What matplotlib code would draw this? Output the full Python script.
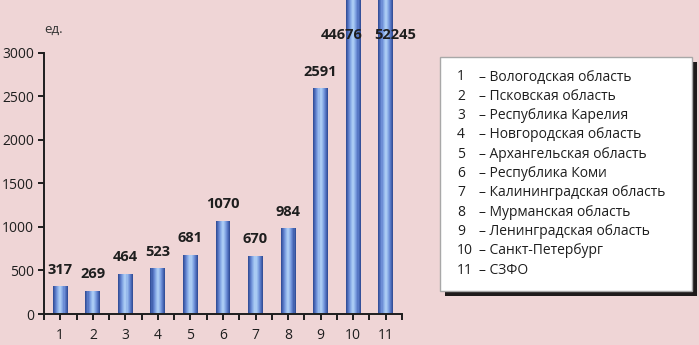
import numpy as np
import matplotlib; matplotlib.use('Agg')
import matplotlib.pyplot as plt
from matplotlib.patches import Rectangle

# data
cats = np.arange(1, 12)
values = [317, 269, 464, 523, 681, 1070, 670, 984, 2591, 44676, 52245]
regions = ['Вологодская область', 'Псковская область', 'Республика Карелия',
           'Новгородская область', 'Архангельская область', 'Республика Коми',
           'Калининградская область', 'Мурманская область', 'Ленинградская область',
           'Санкт-Петербург', 'СЗФО']
yticks = [0, 500, 1000, 1500, 2000, 2500, 3000]

BG = '#efd5d6'
W, H = 699, 345
plt.rcParams['font.family'] = ['Open Sans', 'DejaVu Sans']

fig = plt.figure(figsize=(W / 100, H / 100), dpi=100, facecolor=BG)

def px(x, y):
    return x / W, 1 - y / H

# axes: y axis at x=44px, x axis at y=314px, top of fig = 3605 units
l, b = px(44, 314)
r, _ = px(402, 0)
ax = fig.add_axes([l, b, r - l, 1 - b])
ax.set_facecolor('none')
ymax = 3605
ax.set_xlim(0.5, 11.5)
ax.set_ylim(0, ymax)

# gradient-like bars: dark edges, light centre
shades = ['#34509a', '#4564b0', '#5878c4', '#6d8ed6', '#82a5e2', '#97b9ec', '#a9caf3']
width = 0.46
for k, c in enumerate(shades):
    w = width * (1 - k / len(shades))
    ax.bar(cats, values, width=w, color=c, edgecolor='none', zorder=2 + k * 0.01)

# value labels
cap = 3200
dx = {10: -0.35, 11: 0.28}
for x, v in zip(cats, values):
    y = v + 190 if v < 3000 else cap
    ax.text(x + dx.get(x, 0), y, str(v), ha='center', va='center',
            fontsize=10.5, fontweight='bold', color='#1e1e1e', zorder=5)

for s in ['top', 'right']:
    ax.spines[s].set_visible(False)
ax.spines['left'].set_bounds(0, 3000)
ax.spines['left'].set_linewidth(1.4)
ax.spines['bottom'].set_linewidth(1.4)
ax.spines['left'].set_color('#1e1e1e')
ax.spines['bottom'].set_color('#1e1e1e')
ax.set_yticks(yticks)
ax.set_xticks(np.arange(0.5, 12, 1))
ax.set_xticklabels([])
ax.set_xticks(cats, minor=True)
ax.set_xticklabels([str(c) for c in cats], minor=True)
ax.tick_params(axis='x', which='both', direction='out', length=4, width=1.4,
               pad=6, labelsize=10, colors='#1e1e1e')
ax.tick_params(axis='y', direction='out', length=4, width=1.4, pad=3,
               labelsize=10, colors='#1e1e1e')

fig.text(*px(54, 29), 'ед.', fontsize=9.5, color='#333333', ha='center', va='center')

# legend box with shadow
x0, y0, x1, y1 = 440, 57, 692, 291
sx, sy = px(x0 + 5, y1 + 5)
fig.patches.append(Rectangle((sx, sy), (x1 - x0) / W, (y1 - y0) / H,
                             transform=fig.transFigure, facecolor='#1f1b1b',
                             edgecolor='none', zorder=1))
bx, by = px(x0, y1)
fig.patches.append(Rectangle((bx, by), (x1 - x0) / W, (y1 - y0) / H,
                             transform=fig.transFigure, facecolor='white',
                             edgecolor='#a8a8a8', lw=1, zorder=2))
for i, name in enumerate(regions):
    yy = 77 + i * 19.3
    fig.text(*px(457, yy), str(i + 1), fontsize=10, ha='left', va='center', color='#1e1e1e')
    fig.text(*px(479, yy), '– ' + name, fontsize=10, ha='left', va='center', color='#1e1e1e')

fig.savefig('out.png', dpi=100, facecolor=BG)
